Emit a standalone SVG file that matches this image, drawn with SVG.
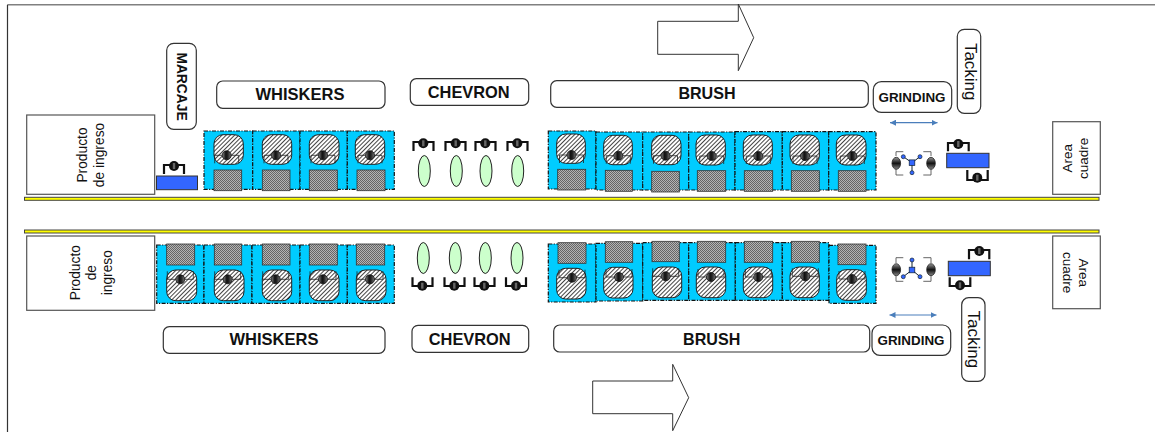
<svg xmlns="http://www.w3.org/2000/svg" width="1155" height="432" viewBox="0 0 1155 432">
<style>
text{font-family:"Liberation Sans",Arial,sans-serif;fill:#111;text-anchor:middle}
.b{font-weight:bold}
.lab{fill:#fff;stroke:#333;stroke-width:1.2}
.box{fill:#fff;stroke:#555;stroke-width:1.2}
.cell{fill:#00ccff;stroke:#111;stroke-width:1.2;stroke-dasharray:4 1.4 1.2 1.4}
.drum{fill:url(#hatch);stroke:#222;stroke-width:1}
.sq{fill:url(#check);stroke:#333;stroke-width:.8}
.tank{fill:#3366ff;stroke:#333;stroke-width:1}
.brk{fill:none;stroke:#111;stroke-width:2.2}
.thin{fill:none;stroke:#222;stroke-width:.8}
.gbrk{fill:none;stroke:#555;stroke-width:.9}
.el{fill:#ccffcc;stroke:#222;stroke-width:1}
.arr{fill:#fff;stroke:#333;stroke-width:1}
.rail{fill:#ffff00;stroke:#444;stroke-width:1}
.node{fill:#3366ff;stroke:#123;stroke-width:.7}
</style>
<defs>
<pattern id="hatch" width="3" height="3" patternUnits="userSpaceOnUse" patternTransform="rotate(45)"><rect width="3" height="3" fill="#fff"/><rect width="1" height="3" fill="#444"/></pattern>
<pattern id="check" width="2" height="2" patternUnits="userSpaceOnUse"><rect width="2" height="2" fill="#b4b4b4"/><rect width="1" height="1" fill="#666"/><rect x="1" y="1" width="1" height="1" fill="#666"/></pattern>
<linearGradient id="vg"><stop offset="0" stop-color="#888"/><stop offset=".4" stop-color="#111"/><stop offset=".6" stop-color="#222"/><stop offset="1" stop-color="#777"/></linearGradient>
<linearGradient id="hg" x2="0" y2="1"><stop offset="0" stop-color="#999"/><stop offset=".5" stop-color="#111"/><stop offset="1" stop-color="#888"/></linearGradient>
<g id="v"><circle r="5" fill="#111"/><rect x="-1.2" y="-3" width="2.4" height="6" fill="#666"/></g>
<circle id="vi" r="4.5" fill="url(#vg)" stroke="#111" stroke-width=".8"/>
<ellipse id="vs" rx="4.3" ry="6" fill="url(#hg)" stroke="#222" stroke-width=".8"/>
<g id="cu"><path class="thin" d="M-12 8V0H12V8"/><use href="#vi"/></g>
<g id="cd"><path class="thin" d="M-13-8V0H13V-8"/><use href="#vi"/></g>
<marker id="ah" markerWidth="7" markerHeight="6" refX="6" refY="3" orient="auto-start-reverse" markerUnits="userSpaceOnUse"><path d="M0 0L6 3L0 6z" fill="#4a7ebb"/></marker>
<g id="mt"><rect x="-2.8" y="-2.8" width="5.6" height="5.6" class="node"/></g>
</defs>
<rect width="1155" height="432" fill="#fff"/>
<path d="M7.5 4.7H1155" fill="none" stroke="#808080" stroke-width="1.6"/>
<path d="M7.5 4.7V432" fill="none" stroke="#333" stroke-width="1.2"/>
<path class="arr" d="M657.7 21.3H738.3V4L753.7 37.7L738.3 70.7V54.3H657.7z"/>
<path class="arr" d="M592.7 381H672.7V364.3L688.7 397.7L672.7 430.7V413.7H592.7z"/>
<rect class="rail" x="24.5" y="197.3" width="1074.5" height="3"/>
<rect class="rail" x="24.5" y="230" width="1074.5" height="3"/>

<g id="connectors">
<path d="M890 122.7H937.5" fill="none" stroke="#4a7ebb" stroke-width="1.2" marker-start="url(#ah)" marker-end="url(#ah)"/>
<path d="M889.5 315H936.5" fill="none" stroke="#4a7ebb" stroke-width="1.2" marker-start="url(#ah)" marker-end="url(#ah)"/>
</g>

<g id="producto-top"><rect class="box" x="26.7" y="115" width="128" height="79.3"/>
<text font-size="13.8" transform="translate(87.3 155) rotate(-90)">Producto</text>
<text font-size="13.8" transform="translate(104.3 155) rotate(-90)">de ingreso</text></g>
<g id="marcaje"><rect class="lab" x="166.7" y="43.3" width="29.6" height="86" rx="7"/>
<text class="b" font-size="13.8" transform="translate(176.5 86.5) rotate(90)">MARCAJE</text></g>
<g id="whiskers-top-label"><rect class="lab" x="216.7" y="81" width="168.3" height="27.3" rx="6"/><text class="b" font-size="16.5" x="300" y="100">WHISKERS</text></g>
<g id="chevron-top-label"><rect class="lab" x="410.3" y="78.7" width="118.4" height="26.6" rx="6"/><text class="b" font-size="16.4" x="468.7" y="98">CHEVRON</text></g>
<g id="brush-top-label"><rect class="lab" x="550.7" y="80.7" width="317.6" height="26.6" rx="6"/><text class="b" font-size="16.1" x="707" y="99">BRUSH</text></g>
<g id="grinding-top-label"><rect class="lab" x="873.3" y="81.7" width="78.4" height="30.6" rx="8"/><text class="b" font-size="13.4" x="912" y="102">GRINDING</text></g>
<g id="tacking-top-label"><rect class="lab" x="957.3" y="29.3" width="23.4" height="84" rx="7"/><text font-size="17" transform="translate(964.5 71.7) rotate(90)">Tacking</text></g>
<g id="area-top"><rect class="box" x="1052.7" y="121.7" width="47.6" height="72.6"/>
<text font-size="13.5" transform="translate(1072.3 158.3) rotate(-90)">Area</text>
<text font-size="13.5" transform="translate(1088.3 158.3) rotate(-90)">cuadre</text></g>

<g id="marcaje-unit"><rect class="tank" x="156.5" y="176" width="41" height="13.7"/><path class="brk" d="M164 174V165H184V174"/><use href="#v" x="174" y="166"/></g>

<g id="w-t1"><rect class="cell" x="204" y="131" width="48.7" height="58.3"/><rect class="drum" x="214" y="134.7" width="29.3" height="29.6" rx="9"/><rect class="sq" x="214" y="170" width="27.7" height="20.7"/><use href="#cu" x="226.7" y="155.3"/></g>
<g id="w-t2"><rect class="cell" x="252.7" y="131" width="47.3" height="58.3"/><rect class="drum" x="262.3" y="134.7" width="29.4" height="29.6" rx="9"/><rect class="sq" x="262.3" y="170" width="27.7" height="20.7"/><use href="#cu" x="276" y="155.3"/></g>
<g id="w-t3"><rect class="cell" x="300" y="131" width="47.3" height="58.3"/><rect class="drum" x="309.3" y="134.7" width="29.7" height="29.6" rx="9"/><rect class="sq" x="309.3" y="170" width="28" height="20.7"/><use href="#cu" x="323" y="155.3"/></g>
<g id="w-t4"><rect class="cell" x="347.3" y="131" width="47" height="58.3"/><rect class="drum" x="355.3" y="134.7" width="29.4" height="29.6" rx="9"/><rect class="sq" x="357" y="170" width="28" height="20.7"/><use href="#cu" x="370" y="155.3"/></g>

<g id="c-t1"><path class="brk" d="M413.5 151V142H433.5V151"/><use href="#v" x="423.3" y="143.3"/><ellipse class="el" cx="424.3" cy="171" rx="6" ry="15.5"/></g>
<g id="c-t2"><path class="brk" d="M445.5 151V142H465.5V151"/><use href="#v" x="455.7" y="143.3"/><ellipse class="el" cx="456.3" cy="171" rx="6" ry="15.5"/></g>
<g id="c-t3"><path class="brk" d="M475.5 151V142H495.5V151"/><use href="#v" x="485.3" y="143.3"/><ellipse class="el" cx="486" cy="171" rx="6" ry="15.5"/></g>
<g id="c-t4"><path class="brk" d="M507.5 151V142H527.5V151"/><use href="#v" x="517.3" y="143.3"/><ellipse class="el" cx="517.7" cy="171" rx="6" ry="15.5"/></g>

<g id="b-t1"><rect class="cell" x="548.3" y="131" width="47.7" height="58"/><rect class="drum" x="556.7" y="134" width="28.6" height="29.3" rx="9"/><rect class="sq" x="557.7" y="169.3" width="28" height="20.7"/><use href="#cu" x="571.5" y="155"/></g>
<g id="b-t2"><rect class="cell" x="596" y="132" width="46.7" height="58"/><rect class="drum" x="603.7" y="135.3" width="28.6" height="29.4" rx="9"/><rect class="sq" x="605.3" y="170.3" width="27" height="21"/><use href="#cu" x="618.3" y="155.7"/></g>
<g id="b-t3"><rect class="cell" x="642.7" y="132" width="46" height="58"/><rect class="drum" x="651.7" y="135.3" width="29.3" height="29.4" rx="9"/><rect class="sq" x="651.7" y="171.3" width="27.6" height="20.7"/><use href="#cu" x="665.5" y="155.7"/></g>
<g id="b-t4"><rect class="cell" x="688.7" y="132" width="46.3" height="58"/><rect class="drum" x="696" y="135" width="29.3" height="30" rx="9"/><rect class="sq" x="697.3" y="170.7" width="28.4" height="20.6"/><use href="#cu" x="711.7" y="156"/></g>
<g id="b-t5"><rect class="cell" x="735" y="131.7" width="47.3" height="58.3"/><rect class="drum" x="743.3" y="135" width="29" height="30" rx="9"/><rect class="sq" x="744.3" y="170.7" width="28.4" height="20.6"/><use href="#cu" x="758.3" y="156"/></g>
<g id="b-t6"><rect class="cell" x="782.3" y="131.7" width="46.4" height="58.3"/><rect class="drum" x="790" y="135" width="29.3" height="30" rx="9"/><rect class="sq" x="791.3" y="170.7" width="28" height="20.6"/><use href="#cu" x="805" y="156"/></g>
<g id="b-t7"><rect class="cell" x="828.7" y="131.7" width="47.3" height="58.3"/><rect class="drum" x="836.3" y="135" width="29.7" height="30" rx="9"/><rect class="sq" x="838.3" y="170.7" width="27.7" height="20.6"/><use href="#cu" x="852.3" y="156"/></g>

<g id="grind-top"><path class="gbrk" d="M903.3 151.7H896V156M923.3 151.7H931V156M903.3 175H896V169M923.3 175H931V169"/>
<path d="M903.3 156.7L912 162.7L920 156.7M912 162.7V172.7" fill="none" stroke="#123" stroke-width="1"/>
<use href="#mt" x="912" y="162.7"/><circle class="node" cx="903.3" cy="156.7" r="2"/><circle class="node" cx="920" cy="156.7" r="2"/><circle class="node" cx="912" cy="172.7" r="2"/>
<use href="#vs" x="896.3" y="163.3"/><use href="#vs" x="931" y="163.3"/></g>
<g id="tack-top"><rect class="tank" x="946.7" y="153.3" width="42.3" height="14.4"/><path class="brk" d="M948 151.3V143H968.7V151.3"/><use href="#v" x="958.3" y="144"/><path class="brk" d="M967.3 170V180H987.7V170"/><use href="#v" x="977.3" y="177.7"/></g>

<g id="producto-bot"><rect class="box" x="26.7" y="236" width="128" height="74.3"/>
<text font-size="13.8" transform="translate(80 272.7) rotate(-90)">Producto</text>
<text font-size="13.8" transform="translate(95.7 272.7) rotate(-90)">de</text>
<text font-size="13.8" transform="translate(111.5 272.7) rotate(-90)">ingreso</text></g>

<g id="w-b1"><rect class="cell" x="156.7" y="245" width="47.3" height="58.3"/><rect class="sq" x="166.7" y="244" width="28" height="21"/><rect class="drum" x="166.7" y="270" width="30" height="30.7" rx="9"/><use href="#cd" x="180.3" y="279.3"/></g>
<g id="w-b2"><rect class="cell" x="204" y="245" width="48" height="58.3"/><rect class="sq" x="214.3" y="244" width="27.4" height="21"/><rect class="drum" x="214.3" y="270" width="29.7" height="30.7" rx="9"/><use href="#cd" x="227.7" y="279.3"/></g>
<g id="w-b3"><rect class="cell" x="252" y="245" width="48" height="58.3"/><rect class="sq" x="262.3" y="244" width="27.7" height="21"/><rect class="drum" x="262.3" y="270" width="29.4" height="30.7" rx="9"/><use href="#cd" x="275.7" y="279.3"/></g>
<g id="w-b4"><rect class="cell" x="300" y="245" width="47.3" height="58.3"/><rect class="sq" x="309.3" y="244" width="28" height="21"/><rect class="drum" x="309.3" y="270" width="29.7" height="30.7" rx="9"/><use href="#cd" x="323" y="279.3"/></g>
<g id="w-b5"><rect class="cell" x="347.3" y="245" width="47" height="58.3"/><rect class="sq" x="356.3" y="244" width="28.4" height="21"/><rect class="drum" x="356.3" y="270" width="29.7" height="30.7" rx="9"/><use href="#cd" x="370" y="279.3"/></g>

<g id="c-b1"><ellipse class="el" cx="423.3" cy="258" rx="6" ry="15.5"/><path class="brk" d="M412.5 277.3V286H432.5V277.3"/><use href="#v" x="422.3" y="285.7"/></g>
<g id="c-b2"><ellipse class="el" cx="455.3" cy="258" rx="6" ry="15.5"/><path class="brk" d="M444.5 277.3V286H464.5V277.3"/><use href="#v" x="454.3" y="285.7"/></g>
<g id="c-b3"><ellipse class="el" cx="485.3" cy="258" rx="6" ry="15.5"/><path class="brk" d="M474.5 277.3V286H494.5V277.3"/><use href="#v" x="484.3" y="285.7"/></g>
<g id="c-b4"><ellipse class="el" cx="517" cy="258" rx="6" ry="15.5"/><path class="brk" d="M506 277.3V286H526V277.3"/><use href="#v" x="516" y="285.7"/></g>

<g id="b-b1"><rect class="cell" x="548.3" y="244" width="47.7" height="58"/><rect class="sq" x="558" y="242.7" width="28" height="20.6"/><rect class="drum" x="556.7" y="268.3" width="29.3" height="30.7" rx="9"/><use href="#cd" x="572" y="277.7"/></g>
<g id="b-b2"><rect class="cell" x="596" y="243.3" width="46.7" height="57.7"/><rect class="sq" x="605.3" y="241.7" width="27.4" height="20.6"/><rect class="drum" x="603.7" y="267.3" width="29.3" height="30.7" rx="9"/><use href="#cd" x="619" y="277"/></g>
<g id="b-b3"><rect class="cell" x="642.7" y="242.7" width="46" height="57.6"/><rect class="sq" x="652" y="241.3" width="27.3" height="20.4"/><rect class="drum" x="652.3" y="267" width="29.4" height="30.7" rx="9"/><use href="#cd" x="665.7" y="276.3"/></g>
<g id="b-b4"><rect class="cell" x="688.7" y="242.7" width="46.6" height="57.6"/><rect class="sq" x="697.3" y="241.3" width="28.4" height="21"/><rect class="drum" x="696.3" y="267" width="29.4" height="30.7" rx="9"/><use href="#cd" x="711" y="277"/></g>
<g id="b-b5"><rect class="cell" x="735.3" y="242.7" width="47" height="57.6"/><rect class="sq" x="744.3" y="241.3" width="28.4" height="21"/><rect class="drum" x="743.3" y="267" width="29.4" height="30.7" rx="9"/><use href="#cd" x="758.3" y="277"/></g>
<g id="b-b6"><rect class="cell" x="782.3" y="242.7" width="46.7" height="57.6"/><rect class="sq" x="791.3" y="241.3" width="28" height="21"/><rect class="drum" x="790" y="267" width="29.3" height="30.7" rx="9"/><use href="#cd" x="805.3" y="276.3"/></g>
<g id="b-b7"><rect class="cell" x="829" y="245.3" width="47" height="58"/><rect class="sq" x="838" y="244" width="28" height="20.7"/><rect class="drum" x="836.7" y="269.7" width="29.6" height="30.6" rx="9"/><use href="#cd" x="852" y="279"/></g>

<g id="grind-bot"><path class="gbrk" d="M903.3 257.7H896V263M923.3 257.7H931V263M903.3 281.3H896V276M923.3 281.3H931V276"/>
<path d="M912 260V270M903.3 276.7L912 270L920 276.7" fill="none" stroke="#123" stroke-width="1"/>
<use href="#mt" x="912" y="270"/><circle class="node" cx="912" cy="260" r="2"/><circle class="node" cx="903.3" cy="276.7" r="2"/><circle class="node" cx="920" cy="276.7" r="2"/>
<use href="#vs" x="896.3" y="269.7"/><use href="#vs" x="931" y="269.7"/></g>
<g id="tack-bot"><rect class="tank" x="948.3" y="261.3" width="42" height="14.4"/><path class="brk" d="M969 259.3V250H989.3V259.3"/><use href="#v" x="979.3" y="251"/><path class="brk" d="M949.7 277.3V286H970.3V277.3"/><use href="#v" x="960" y="285.3"/></g>
<g id="area-bot"><rect class="box" x="1052.7" y="236" width="47.6" height="72.7"/>
<text font-size="13.5" transform="translate(1079 272.7) rotate(90)">Area</text>
<text font-size="13.5" transform="translate(1063.3 272.7) rotate(90)">cuadre</text></g>

<g id="whiskers-bot-label"><rect class="lab" x="163.3" y="326.7" width="221.7" height="26.6" rx="6"/><text class="b" font-size="16.5" x="274" y="345">WHISKERS</text></g>
<g id="chevron-bot-label"><rect class="lab" x="412" y="325.3" width="116.7" height="27" rx="6"/><text class="b" font-size="16.4" x="469.7" y="345">CHEVRON</text></g>
<g id="brush-bot-label"><rect class="lab" x="553.7" y="325" width="316" height="27" rx="6"/><text class="b" font-size="16.1" x="711.7" y="345">BRUSH</text></g>
<g id="grinding-bot-label"><rect class="lab" x="872" y="325" width="78.7" height="30.3" rx="8"/><text class="b" font-size="13.4" x="911" y="345">GRINDING</text></g>
<g id="tacking-bot-label"><rect class="lab" x="961.7" y="297.7" width="23.3" height="83.6" rx="7"/><text font-size="17" transform="translate(968 339.3) rotate(90)">Tacking</text></g>
</svg>
